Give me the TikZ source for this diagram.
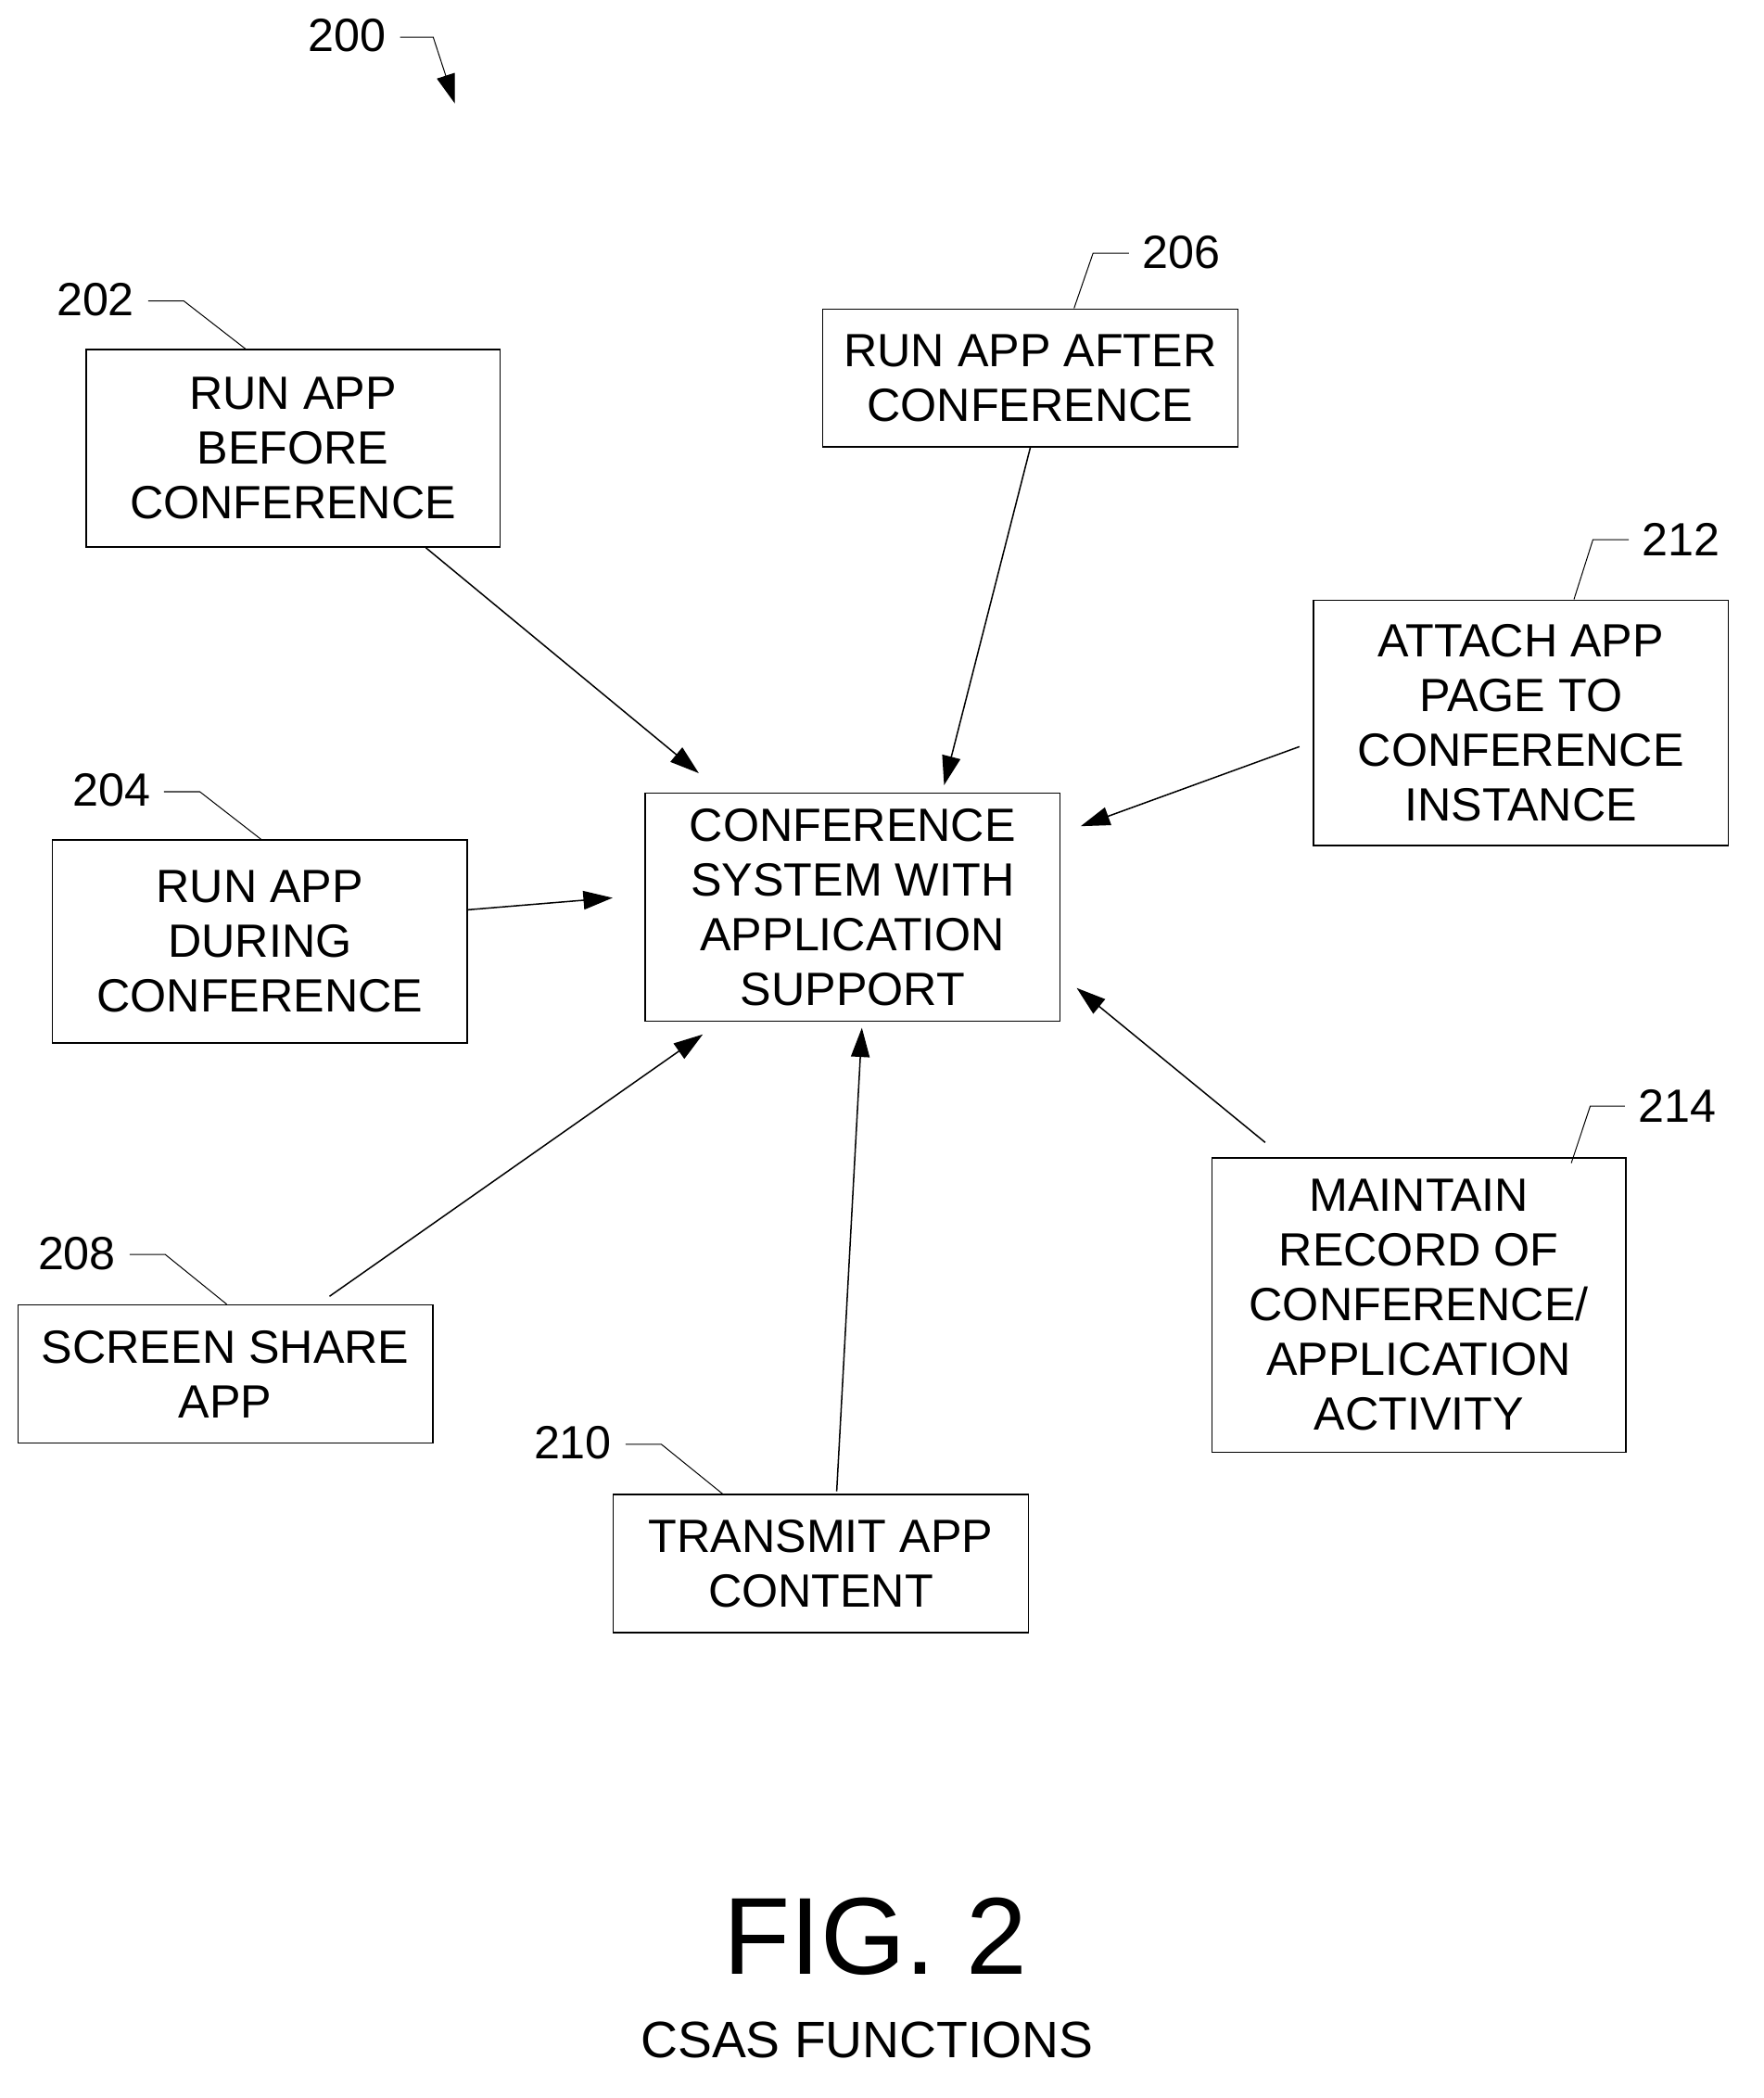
\documentclass[tikz,border=0pt]{standalone}
\usepackage{fontspec}
\setmainfont{Liberation Sans}
\usetikzlibrary{arrows.meta,calc}

\begin{document}
\begin{tikzpicture}[x=0.02cm,y=-0.02cm,semithick,
                    >={Triangle[length=0.44cm,width=0.28cm]}]
  \tikzstyle{box}=[draw=black,fill=white,inner sep=0pt,align=center,
                   font=\fontsize{20}{23.5}\selectfont]
  \tikzstyle{ref}=[font=\fontsize{20}{24}\selectfont]
  \tikzstyle{lead}=[thin]

  \useasboundingbox (0,0) rectangle (1330,1582);

  \node[box,minimum width=312*0.02cm,minimum height=149*0.02cm] (b202) at (221,338) {RUN APP\\BEFORE\\CONFERENCE};
  \node[box,minimum width=313*0.02cm,minimum height=104*0.02cm] (b206) at (777,285) {RUN APP AFTER\\CONFERENCE};
  \node[box,minimum width=313*0.02cm,minimum height=185*0.02cm] (b212) at (1147,545) {ATTACH APP\\PAGE TO\\CONFERENCE\\INSTANCE};
  \node[box,minimum width=313*0.02cm,minimum height=153*0.02cm] (b204) at (196,710) {RUN APP\\DURING\\CONFERENCE};
  \node[box,minimum width=313*0.02cm,minimum height=172*0.02cm] (csas) at (643,684) {CONFERENCE\\SYSTEM WITH\\APPLICATION\\SUPPORT};
  \node[box,minimum width=312*0.02cm,minimum height=222*0.02cm] (b214) at (1070,984) {MAINTAIN\\RECORD OF\\CONFERENCE/\\APPLICATION\\ACTIVITY};
  \node[box,minimum width=313*0.02cm,minimum height=104*0.02cm] (b208) at (170,1036) {SCREEN SHARE\\APP};
  \node[box,minimum width=313*0.02cm,minimum height=104*0.02cm] (b210) at (619,1179) {TRANSMIT APP\\CONTENT};

  % arrow tips stop short of the centre box
  \coordinate (t202) at (527,583);
  \coordinate (t206) at (712,592);
  \coordinate (t212) at (815,623);
  \coordinate (t204) at (462,677);
  \coordinate (t208) at (530,780);
  \coordinate (t210) at (650,775);
  \coordinate (t214) at (812,745);

  \draw[->] ($(b202.south west)!0.82!(b202.south east)$) -- (t202);
  \draw[->] (b206.south) -- (t206);
  \draw[->] ($(b212.west)+(-10,18)$) -- (t212);
  \draw[->] ($(b204.east)+(0,-24)$) -- (t204);
  \draw[->] ($(b208.north west)!0.75!(b208.north east)+(0,-6)$) -- (t208);
  \draw[->] ($(b210.north)+(12,-2)$) -- (t210);
  \draw[->] ($(b214.north west)!0.13!(b214.north east)+(0,-11)$) -- (t214);

  % reference numerals
  \node[ref] (l200) at (262,27) {200};
  \node[ref] (l202) at (72,226) {202};
  \node[ref] (l206) at (891,190) {206};
  \node[ref] (l212) at (1268,407) {212};
  \node[ref] (l204) at (84,596) {204};
  \node[ref] (l208) at (58,945) {208};
  \node[ref] (l210) at (432,1088) {210};
  \node[ref] (l214) at (1265,834) {214};

  \draw[->,thin] (l200.east) ++(4,1) -- ++(25,0) -- (343,78);
  \draw[lead] (l202.east) ++(4,1) -- ++(27,0) -- (b202.north -| 185,0);
  \draw[lead] (l206.west) ++(-4,1) -- ++(-27,0) -- (b206.north -| 810,0);
  \draw[lead] (l212.west) ++(-4,0) -- ++(-27,0) -- (b212.north -| 1187,0);
  \draw[lead] (l204.east) ++(4,1) -- ++(27,0) -- (b204.north -| 197,0);
  \draw[lead] (l208.east) ++(4,1) -- ++(27,0) -- (b208.north -| 171,0);
  \draw[lead] (l210.east) ++(4,1) -- ++(27,0) -- (b210.north -| 545,0);
  \draw[lead] (l214.west) ++(-4,0) -- ++(-26,0) -- (1185,877);

  \node[font=\fontsize{47}{50}\selectfont] (fig) at (660,1460) {FIG. 2};
  \node[font=\fontsize{22}{26}\selectfont] (cap) at (654,1538) {CSAS FUNCTIONS};
\end{tikzpicture}
\end{document}
